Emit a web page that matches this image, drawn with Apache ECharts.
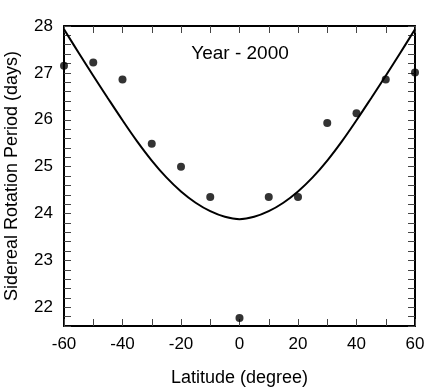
<!DOCTYPE html>
<html>
<head>
<meta charset="utf-8">
<script src="https://cdn.jsdelivr.net/npm/echarts@6/dist/echarts.min.js"></script>
<style>
  html, body { margin: 0; padding: 0; background: #fff; }
  #chart { width: 441px; height: 391px; }
</style>
</head>
<body>
<div id="chart"></div>
<script>
// observed rotation periods
const latitudes = [-60, -50, -40, -30, -20, -10, 0, 10, 20, 30, 40, 50, 60]
const periods = [27.15, 27.22, 26.86, 25.49, 25.0, 24.35, 21.77, 24.35, 24.35, 25.93, 26.14, 26.86, 27.01]

// fitted curve, every 5 degrees
const fitLat = [-60, -55, -50, -45, -40, -35, -30, -25, -20, -15, -10, -5, 0,
  5, 10, 15, 20, 25, 30, 35, 40, 45, 50, 55, 60]
const fitPeriod = [27.93, 27.43, 26.94, 26.46, 25.99, 25.54, 25.13, 24.77, 24.47, 24.23, 24.05, 23.93, 23.88,
  23.93, 24.05, 24.23, 24.47, 24.77, 25.13, 25.54, 25.99, 26.46, 26.94, 27.43, 27.93]

const title = 'Year - 2000'
const xName = 'Latitude (degree)'
const yName = 'Sidereal Rotation Period (days)'

const font = 'Liberation Sans, Arial, Helvetica, sans-serif'
const ink = '#000'

const chart = echarts.init(document.getElementById('chart'))

const xBase = {
  type: 'value', min: -60, max: 60, interval: 10,
  axisLine: { onZero: false, lineStyle: { color: ink, width: 2 } },
  axisTick: { inside: true, length: 7, lineStyle: { color: '#444', width: 1 } },
  splitLine: { show: false }
}
const yBase = {
  type: 'value', min: 21.6, max: 28, interval: 0.2,
  axisLine: { onZero: false, lineStyle: { color: ink, width: 2 } },
  axisTick: { inside: true, length: 7, lineStyle: { color: '#444', width: 1 } },
  splitLine: { show: false }
}

chart.setOption({
  animation: false,
  textStyle: { fontFamily: font },
  grid: { left: 64, right: 26, top: 26, bottom: 65, outerBoundsMode: 'none', containLabel: false },
  title: {
    text: title, left: 235, top: 39, textAlign: 'center',
    textStyle: { fontFamily: font, fontSize: 19, fontWeight: 'normal', color: ink }
  },
  xAxis: [
    {
      ...xBase, position: 'bottom',
      name: xName, nameLocation: 'middle', nameGap: 43,
      nameTextStyle: { fontFamily: font, fontSize: 18, color: ink },
      axisLabel: {
        margin: 10, fontSize: 17, color: ink, fontFamily: font,
        formatter: v => (v % 20 === 0 ? String(v) : '')
      }
    },
    { ...xBase, position: 'top', axisLabel: { show: false } }
  ],
  yAxis: [
    {
      ...yBase, position: 'left',
      name: yName, nameLocation: 'middle', nameGap: 43,
      nameTextStyle: { fontFamily: font, fontSize: 18, color: ink },
      axisLabel: {
        margin: 11, fontSize: 17, color: ink, fontFamily: font,
        formatter: v => (Math.abs(v - Math.round(v)) < 1e-6 ? String(Math.round(v)) : '')
      }
    },
    { ...yBase, position: 'right', axisLabel: { show: false } }
  ],
  series: [
    {
      name: 'fit', type: 'line', smooth: 0.4, showSymbol: false,
      data: fitLat.map((x, i) => [x, fitPeriod[i]]),
      lineStyle: { color: ink, width: 2 },
      z: 3
    },
    {
      name: 'observed', type: 'scatter', clip: false,
      data: latitudes.map((x, i) => [x, periods[i]]),
      symbolSize: 8,
      itemStyle: { color: ink },
      z: 4
    }
  ]
})
</script>
</body>
</html>
